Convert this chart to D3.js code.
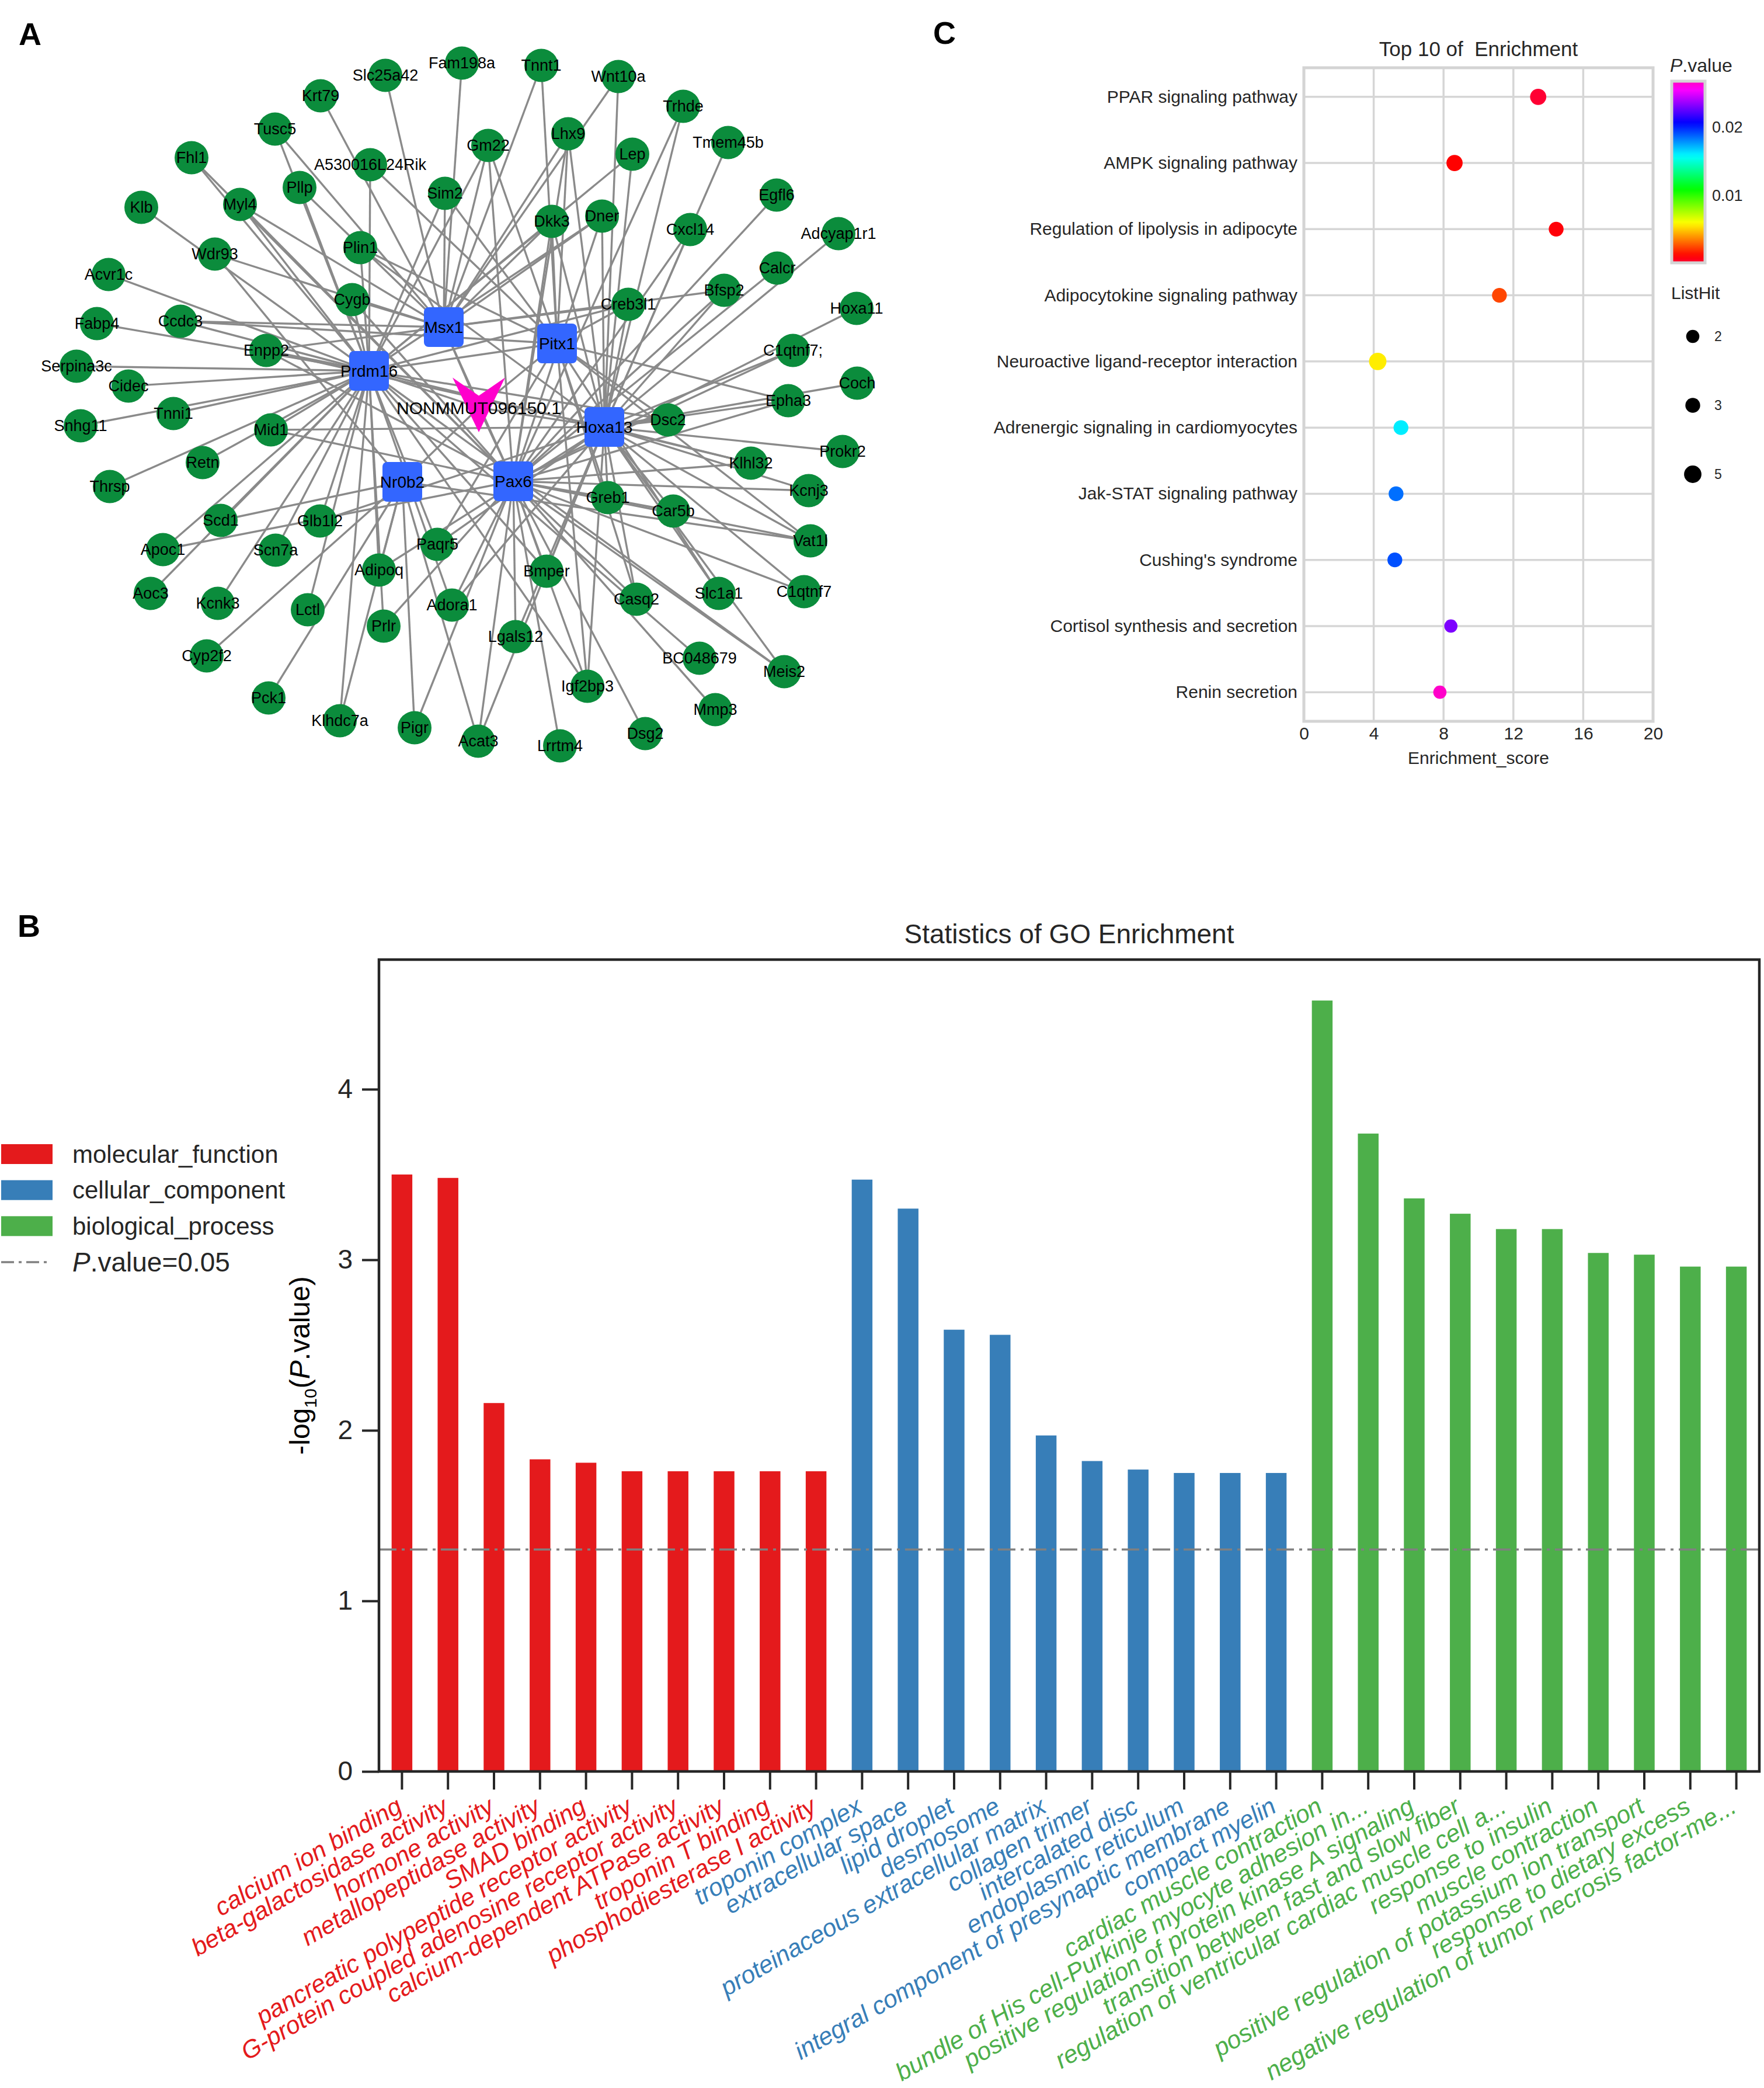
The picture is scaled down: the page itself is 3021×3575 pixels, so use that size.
<!DOCTYPE html>
<html><head><meta charset="utf-8">
<script src="https://cdn.jsdelivr.net/npm/d3@7"></script>
<style>
body{margin:0;background:#fff}
text{font-family:"Liberation Sans",Arial,Helvetica,sans-serif}
</style>
</head><body>
<svg id="fig"></svg>
<script>
// ================= DATA =================
// Panel A: network (layout coordinates in layout units)
const netGeneNames = ["Slc25a42","Fam198a","Krt79","Tusc5","Fhl1","A530016L24Rik","Pllp","Sim2","Klb","Myl4","Plin1","Wdr93","Acvr1c","Cygb","Fabp4","Ccdc3","Enpp2","Serpina3c","Cidec","Snhg11","Tnni1","Mid1","Retn","Thrsp","Scd1","Glb1l2","Apoc1","Scn7a","Paqr5","Adipoq","Aoc3","Kcnk3","Lctl","Prlr","Adora1","Cyp2f2","Pck1","Klhdc7a","Pigr","Acat3","Lgals12","Lrrtm4","Igf2bp3","Dsg2","Mmp3","BC048679","Casq2","Bmper","Meis2","Slc1a1","C1qtnf7","Vat1l","Car5b","Greb1","Kcnj3","Klhl32","Prokr2","Dsc2","Epha3","Coch","C1qtnf7;","Hoxa11","Calcr","Adcyap1r1","Bfsp2","Egfl6","Creb3l1","Cxcl14","Tmem45b","Trhde","Lep","Wnt10a","Dner","Dkk3","Lhx9","Tnnt1","Gm22"];
const netGeneX = [66.0,79.1,54.9,47.1,32.8,63.4,51.3,76.2,24.2,41.1,61.7,36.8,18.6,60.3,16.6,30.9,45.6,13.1,22.0,13.8,29.7,46.4,34.7,18.8,37.8,54.8,27.9,47.2,74.9,64.9,25.8,37.3,52.7,65.7,77.4,35.4,46.0,58.2,71.0,81.9,88.3,95.9,100.6,110.5,122.5,119.8,109.0,93.6,134.3,123.1,137.7,138.8,115.3,104.1,138.5,128.6,144.3,114.4,135.0,146.8,135.8,146.7,133.1,143.6,124.0,133.0,107.6,118.2,124.7,117.0,108.3,105.9,103.1,94.5,97.3,92.7,83.6];
const netGeneY = [12.9,10.8,16.4,22.1,27.0,28.2,32.1,33.1,35.5,35.0,42.4,43.5,47.0,51.3,55.4,55.0,60.0,62.7,66.1,72.9,70.8,73.6,79.2,83.3,89.1,89.2,94.1,94.2,93.2,97.6,101.6,103.3,104.4,107.2,103.6,112.3,119.5,123.4,124.6,126.9,109.0,127.7,117.5,125.6,121.5,112.7,102.6,97.8,115.0,101.6,101.3,92.6,87.5,85.2,84.0,79.3,77.3,71.9,68.6,65.6,60.0,52.8,45.9,40.0,49.7,33.4,52.1,39.3,24.4,18.2,26.4,13.1,37.0,37.9,22.9,11.2,24.9];
const netHubNames = ["Msx1","Pitx1","Prdm16","Hoxa13","Nr0b2","Pax6"];
const netHubX = [76.0,95.4,63.2,103.5,68.9,87.9];
const netHubY = [56.0,58.8,63.5,73.1,82.5,82.4];
const netLncName = "NONMMUT096150.1";
const netLncXY = [82.0, 69.8];
const netLinks = [
 "Slc25a42:Msx1","Fam198a:Msx1","Krt79:Msx1","Tusc5:Prdm16,Msx1","Fhl1:Prdm16,Pax6",
 "A530016L24Rik:Prdm16,Pitx1","Pllp:Prdm16,Msx1","Sim2:Prdm16,Pitx1,Msx1","Klb:Prdm16",
 "Myl4:Msx1,Prdm16,Pax6","Plin1:Prdm16,Pitx1,Hoxa13","Wdr93:Msx1,Nr0b2","Acvr1c:Prdm16",
 "Cygb:Msx1,Prdm16,Pax6","Fabp4:Prdm16","Ccdc3:Msx1,Pitx1,Prdm16","Enpp2:Msx1,Prdm16,Pax6,Hoxa13",
 "Serpina3c:Prdm16","Cidec:Prdm16","Snhg11:Prdm16","Tnni1:Prdm16","Mid1:Prdm16,Hoxa13,Pax6",
 "Retn:Prdm16","Thrsp:Prdm16","Scd1:Prdm16,Nr0b2","Glb1l2:Prdm16,Hoxa13","Apoc1:Prdm16,Pax6",
 "Scn7a:Prdm16","Paqr5:Prdm16,Hoxa13,Pitx1","Adipoq:Prdm16,Nr0b2,Hoxa13","Aoc3:Prdm16",
 "Kcnk3:Prdm16","Lctl:Prdm16","Prlr:Prdm16,Pax6","Adora1:Prdm16,Pax6,Hoxa13","Cyp2f2:Nr0b2",
 "Pck1:Nr0b2","Klhdc7a:Prdm16,Nr0b2","Pigr:Nr0b2,Pax6","Acat3:Nr0b2,Pax6,Hoxa13",
 "Lgals12:Pax6,Hoxa13","Lrrtm4:Pax6","Igf2bp3:Pax6,Prdm16,Hoxa13,Pitx1","Dsg2:Pax6","Mmp3:Pax6",
 "BC048679:Prdm16","Casq2:Pax6,Hoxa13,Pitx1","Bmper:Pax6,Hoxa13,Prdm16","Meis2:Prdm16,Pax6,Hoxa13",
 "Slc1a1:Hoxa13,Pitx1","C1qtnf7:Pax6,Hoxa13","Vat1l:Pax6,Hoxa13,Pitx1,Nr0b2","Car5b:Pax6,Hoxa13",
 "Greb1:Pax6,Pitx1,Hoxa13","Kcnj3:Pax6,Hoxa13","Klhl32:Hoxa13,Pax6,Prdm16","Prokr2:Hoxa13",
 "Dsc2:Hoxa13,Pitx1,Prdm16","Epha3:Hoxa13,Pitx1,Pax6","Coch:Hoxa13","C1qtnf7;:Hoxa13,Pax6",
 "Hoxa11:Pax6","Calcr:Pax6","Adcyap1r1:Hoxa13","Bfsp2:Msx1,Hoxa13,Pax6","Egfl6:Pax6",
 "Creb3l1:Msx1,Pitx1,Prdm16,Hoxa13","Cxcl14:Hoxa13,Pax6","Tmem45b:Hoxa13","Trhde:Pax6,Hoxa13",
 "Lep:Prdm16,Hoxa13","Wnt10a:Msx1,Hoxa13","Dner:Msx1,Pax6,Hoxa13,Prdm16",
 "Dkk3:Msx1,Pitx1,Prdm16,Pax6,Hoxa13","Lhx9:Msx1,Pitx1,Pax6,Hoxa13","Tnnt1:Msx1,Pitx1",
 "Gm22:Msx1,Prdm16,Pitx1,Pax6",
 "NONMMUT096150.1:Msx1,Pitx1,Prdm16,Hoxa13,Nr0b2,Pax6","Prdm16:Pitx1","Msx1:Pax6"
];

// Panel C: KEGG top 10
const keggTerms = ["PPAR signaling pathway","AMPK signaling pathway","Regulation of lipolysis in adipocyte","Adipocytokine signaling pathway","Neuroactive ligand-receptor interaction","Adrenergic signaling in cardiomyocytes","Jak-STAT signaling pathway","Cushing's syndrome","Cortisol synthesis and secretion","Renin secretion"];
const keggScore = [13.42, 8.63, 14.45, 11.2, 4.23, 5.56, 5.28, 5.21, 8.42, 7.79];
const keggPvalue = [0.0002, 0.0012, 0.0010, 0.0025, 0.0057, 0.0161, 0.0185, 0.0191, 0.0230, 0.0265];
const keggListHit = [4, 4, 3, 3, 5, 3, 3, 3, 2, 2];
const keggXTicks = [0, 4, 8, 12, 16, 20];
const pvalueTicks = [0.01, 0.02];
const listHitLegend = [2, 3, 5];

// Panel B: GO enrichment
const mfTerms = ["calcium ion binding","beta-galactosidase activity","hormone activity","metallopeptidase activity","SMAD binding","pancreatic polypeptide receptor activity","G-protein coupled adenosine receptor activity","calcium-dependent ATPase activity","troponin T binding","phosphodiesterase I activity"];
const mfValues = [3.50, 3.48, 2.16, 1.83, 1.81, 1.76, 1.76, 1.76, 1.76, 1.76];
const ccTerms = ["troponin complex","extracellular space","lipid droplet","desmosome","proteinaceous extracellular matrix","collagen trimer","intercalated disc","endoplasmic reticulum","integral component of presynaptic membrane","compact myelin"];
const ccValues = [3.47, 3.30, 2.59, 2.56, 1.97, 1.82, 1.77, 1.75, 1.75, 1.75];
const bpTerms = ["cardiac muscle contraction","bundle of His cell-Purkinje myocyte adhesion in...","positive regulation of protein kinase A signaling","transition between fast and slow fiber","regulation of ventricular cardiac muscle cell a...","response to insulin","muscle contraction","positive regulation of potassium ion transport","response to dietary excess","negative regulation of tumor necrosis factor-me..."];
const bpValues = [4.52, 3.74, 3.36, 3.27, 3.18, 3.18, 3.04, 3.03, 2.96, 2.96];
const goCategories = ["molecular_function","cellular_component","biological_process"];
const goYTicks = [0, 1, 2, 3, 4];
const pThreshold = 0.05;

// ================= DRAW =================
const W = 3021, H = 3575;
const svg = d3.select("#fig").attr("width", W).attr("height", H)
  .style("background", "#fff");
svg.append("rect").attr("width", W).attr("height", H).attr("fill", "#fff");

const FONT = '"Liberation Sans",Arial,Helvetica,sans-serif';
const txtCol = "#262626";

// panel letters
[["A", 32, 77], ["C", 1598, 75], ["B", 30, 1604]].forEach(([t, x, y]) => {
  svg.append("text").attr("x", x).attr("y", y).text(t)
    .attr("font-size", 54).attr("font-weight", "bold").attr("fill", "#000");
});

// ---------- Panel A ----------
(function () {
  const xA = d3.scaleLinear().domain([0, 160]).range([0, 1600]);
  const yA = d3.scaleLinear().domain([0, 160]).range([0, 1600]);
  const pos = new Map();
  netGeneNames.forEach((n, i) => pos.set(n, [xA(netGeneX[i]), yA(netGeneY[i])]));
  netHubNames.forEach((n, i) => pos.set(n, [xA(netHubX[i]), yA(netHubY[i])]));
  pos.set(netLncName, [xA(netLncXY[0]), yA(netLncXY[1])]);

  const links = [];
  netLinks.forEach(s => {
    const k = s.indexOf(":");
    const src = s.slice(0, k);
    s.slice(k + 1).split(",").forEach(t => links.push([src, t]));
  });
  const g = svg.append("g");
  g.selectAll("line.edge").data(links).join("line")
    .attr("x1", d => pos.get(d[0])[0]).attr("y1", d => pos.get(d[0])[1])
    .attr("x2", d => pos.get(d[1])[0]).attr("y2", d => pos.get(d[1])[1])
    .attr("stroke", "#8a8a8a").attr("stroke-width", 3.4);

  g.selectAll("ellipse.gene").data(netGeneNames).join("ellipse")
    .attr("cx", d => pos.get(d)[0]).attr("cy", d => pos.get(d)[1])
    .attr("rx", 29).attr("ry", 28.5).attr("fill", "#0b8c3c");

  g.selectAll("rect.hub").data(netHubNames).join("rect")
    .attr("x", d => pos.get(d)[0] - 34).attr("y", d => pos.get(d)[1] - 34)
    .attr("width", 68).attr("height", 68).attr("rx", 8)
    .attr("fill", "#3366ff");

  const lp = pos.get(netLncName);
  const vShape = [[-1, -0.95], [0, -0.3], [1, -0.95], [0, 1]];
  g.append("path")
    .attr("d", d3.line()(vShape.map(p => [lp[0] + p[0] * 45, lp[1] - 6 + p[1] * 48])) + "Z")
    .attr("fill", "#ff00cc");

  const allNames = netGeneNames.concat(netHubNames).concat([netLncName]);
  g.selectAll("text.lab").data(allNames).join("text")
    .attr("x", d => pos.get(d)[0]).attr("y", d => pos.get(d)[1])
    .attr("text-anchor", "middle").attr("dominant-baseline", "central")
    .attr("font-size", d => d === netLncName ? 30 : (netHubNames.includes(d) ? 28 : 27))
    .attr("fill", "#000").text(d => d);
})();

// ---------- Panel C ----------
(function () {
  const cL = 2233, cR = 2831, cT = 116, cB = 1235;
  const xC = d3.scaleLinear().domain([0, 20]).range([cL, cR]);
  const yC = d3.scalePoint().domain(keggTerms).range([cT, cB]).padding(0.44);
  const pMin = 0.0002, pMax = 0.0267;
  const hue = d3.scaleLinear().domain([pMin, pMax]).range([-12, 315]);
  const col = p => { let h = hue(p); if (h < 0) h += 360; return d3.hsl(h, 1, 0.5).formatHex(); };
  const rS = d3.scaleSqrt().domain([2, 5]).range([11.3, 14.9]);
  const g = svg.append("g");

  // grid
  g.selectAll("line.vg").data(keggXTicks.slice(1, -1)).join("line")
    .attr("x1", d => xC(d)).attr("x2", d => xC(d)).attr("y1", cT).attr("y2", cB)
    .attr("stroke", "#d6d6d6").attr("stroke-width", 3.5);
  g.selectAll("line.hg").data(keggTerms).join("line")
    .attr("x1", cL).attr("x2", cR).attr("y1", d => yC(d)).attr("y2", d => yC(d))
    .attr("stroke", "#d6d6d6").attr("stroke-width", 3.5);
  g.append("rect").attr("x", cL).attr("y", cT).attr("width", cR - cL).attr("height", cB - cT)
    .attr("fill", "none").attr("stroke", "#d4d4d4").attr("stroke-width", 5);

  // dots
  g.selectAll("circle.dot").data(keggTerms).join("circle")
    .attr("cx", (d, i) => xC(keggScore[i])).attr("cy", d => yC(d))
    .attr("r", (d, i) => rS(keggListHit[i]))
    .attr("fill", (d, i) => col(keggPvalue[i]));

  // axes
  const ax = g.append("g").attr("transform", `translate(0,${cB})`)
    .call(d3.axisBottom(xC).tickValues(keggXTicks).tickSize(0).tickPadding(10));
  ax.select(".domain").remove();
  ax.selectAll("text").attr("font-size", 30).attr("fill", txtCol).attr("font-family", FONT);
  const ay = g.append("g").attr("transform", `translate(${cL},0)`)
    .call(d3.axisLeft(yC).tickSize(0).tickPadding(11));
  ay.select(".domain").remove();
  ay.selectAll("text").attr("font-size", 30).attr("fill", txtCol).attr("font-family", FONT);

  g.append("text").attr("x", (cL + cR) / 2).attr("y", 96).attr("text-anchor", "middle")
    .attr("font-size", 35).attr("fill", txtCol).text("Top 10 of  Enrichment")
    .style("white-space", "pre");
  g.append("text").attr("x", (cL + cR) / 2).attr("y", 1308).attr("text-anchor", "middle")
    .attr("font-size", 30).attr("fill", txtCol).text("Enrichment_score");

  // colorbar legend
  const cbX = 2863, cbW = 57, cbTop = 139, cbBot = 450;
  const defs = svg.append("defs");
  const grad = defs.append("linearGradient").attr("id", "pgrad")
    .attr("x1", 0).attr("x2", 0).attr("y1", 1).attr("y2", 0);
  d3.range(0, 1.0001, 0.025).forEach(t => {
    grad.append("stop").attr("offset", t).attr("stop-color", col(pMin + t * (pMax - pMin)));
  });
  g.append("rect").attr("x", cbX).attr("y", cbTop).attr("width", cbW).attr("height", cbBot - cbTop)
    .attr("fill", "url(#pgrad)").attr("stroke", "#d4d4d4").attr("stroke-width", 5);
  const cbY = d3.scaleLinear().domain([pMin, pMax]).range([cbBot, cbTop]);
  g.selectAll("text.cbt").data(pvalueTicks).join("text")
    .attr("x", 2932).attr("y", d => cbY(d)).attr("dominant-baseline", "central")
    .attr("font-size", 27).attr("fill", txtCol).text(d => d3.format(".2f")(d));
  const pt = g.append("text").attr("x", 2860).attr("y", 123).attr("font-size", 32).attr("fill", txtCol);
  pt.append("tspan").attr("font-style", "italic").text("P");
  pt.append("tspan").text(".value");

  g.append("text").attr("x", 2862).attr("y", 512).attr("font-size", 30).attr("fill", txtCol).text("ListHit");
  const ly = d3.scalePoint().domain(listHitLegend).range([576, 812]);
  g.selectAll("circle.lh").data(listHitLegend).join("circle")
    .attr("cx", 2899).attr("cy", d => ly(d)).attr("r", d => rS(d)).attr("fill", "#000");
  g.selectAll("text.lh").data(listHitLegend).join("text")
    .attr("x", 2936).attr("y", d => ly(d)).attr("dominant-baseline", "central")
    .attr("font-size", 23).attr("fill", txtCol).text(d => d);
})();

// ---------- Panel B ----------
(function () {
  const bL = 649, bR = 3013, bT = 1643, bB = 3033;
  const catColor = { molecular_function: "#e41a1c", cellular_component: "#377eb8", biological_process: "#4daf4a" };
  const rows = [];
  mfTerms.forEach((t, i) => rows.push({ term: t, v: mfValues[i], cat: goCategories[0] }));
  ccTerms.forEach((t, i) => rows.push({ term: t, v: ccValues[i], cat: goCategories[1] }));
  bpTerms.forEach((t, i) => rows.push({ term: t, v: bpValues[i], cat: goCategories[2] }));

  const xB = d3.scaleBand().domain(rows.map(d => d.term)).range([bL, bR]);
  const yB = d3.scaleLinear().domain([0, 4.76]).range([bB, bT]);
  const bw = xB.bandwidth() * 0.45;
  const g = svg.append("g");

  g.selectAll("rect.bar").data(rows).join("rect")
    .attr("x", d => xB(d.term) + (xB.bandwidth() - bw) / 2)
    .attr("y", d => yB(d.v)).attr("width", bw).attr("height", d => yB(0) - yB(d.v))
    .attr("fill", d => catColor[d.cat]);

  const thr = -Math.log10(pThreshold);
  g.append("line").attr("x1", bL).attr("x2", bR).attr("y1", yB(thr)).attr("y2", yB(thr))
    .attr("stroke", "#808080").attr("stroke-width", 3.5).attr("stroke-dasharray", "30,9,5,9");

  g.append("rect").attr("x", bL).attr("y", bT).attr("width", bR - bL).attr("height", bB - bT)
    .attr("fill", "none").attr("stroke", "#262626").attr("stroke-width", 4.5);

  const ya = g.append("g").attr("transform", `translate(${bL},0)`)
    .call(d3.axisLeft(yB).tickValues(goYTicks).tickFormat(d3.format("d")).tickSize(29).tickPadding(16));
  ya.select(".domain").remove();
  ya.selectAll("line").attr("stroke", "#262626").attr("stroke-width", 4);
  ya.selectAll("text").attr("font-size", 46).attr("fill", txtCol).attr("font-family", FONT);

  const xa = g.append("g").attr("transform", `translate(0,${bB})`)
    .call(d3.axisBottom(xB).tickSize(31).tickFormat(""));
  xa.select(".domain").remove();
  xa.selectAll("text").remove();
  xa.selectAll("line").attr("stroke", "#262626").attr("stroke-width", 4);

  g.selectAll("text.xl").data(rows).join("text")
    .attr("transform", d => `translate(${xB(d.term) + xB.bandwidth() / 2 + 3},3101) rotate(-30)`)
    .attr("text-anchor", "end").attr("font-size", 42.5).attr("font-style", "italic")
    .attr("fill", d => catColor[d.cat]).text(d => d.term);

  g.append("text").attr("x", (bL + bR) / 2).attr("y", 1615).attr("text-anchor", "middle")
    .attr("font-size", 46).attr("fill", txtCol).text("Statistics of GO Enrichment");

  const yl = g.append("text").attr("transform", "translate(530,2338) rotate(-90)")
    .attr("text-anchor", "middle").attr("font-size", 48).attr("fill", "#000");
  yl.append("tspan").text("-log");
  yl.append("tspan").attr("font-size", 30).attr("dy", 12).text("10");
  yl.append("tspan").attr("dy", -12).text("(");
  yl.append("tspan").attr("font-style", "italic").text("P");
  yl.append("tspan").text(".value)");

  // legend
  const legY = d3.scalePoint().domain(goCategories.concat(["thr"])).range([1976, 2161]);
  g.selectAll("rect.leg").data(goCategories).join("rect")
    .attr("x", 2).attr("y", d => legY(d) - 17).attr("width", 88).attr("height", 34)
    .attr("fill", d => catColor[d]);
  g.append("line").attr("x1", 2).attr("x2", 86).attr("y1", legY("thr")).attr("y2", legY("thr"))
    .attr("stroke", "#808080").attr("stroke-width", 3.5).attr("stroke-dasharray", "22,8,5,8");
  g.selectAll("text.leg").data(goCategories).join("text")
    .attr("x", 124).attr("y", d => legY(d)).attr("dominant-baseline", "central")
    .attr("font-size", 42).attr("fill", txtCol).text(d => d);
  const lt = g.append("text").attr("x", 124).attr("y", legY("thr")).attr("dominant-baseline", "central")
    .attr("font-size", 46).attr("fill", txtCol);
  lt.append("tspan").attr("font-style", "italic").text("P");
  lt.append("tspan").text(".value=" + pThreshold);
})();
</script>
</body></html>
